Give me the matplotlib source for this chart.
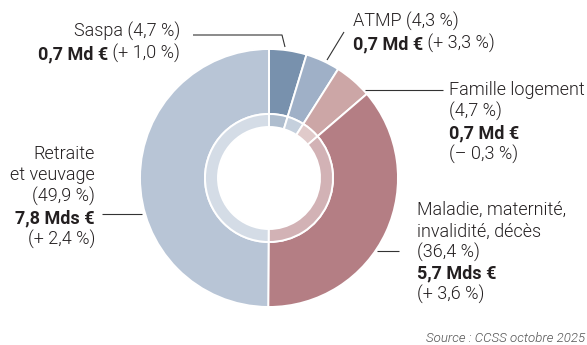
import matplotlib.pyplot as plt

plt.rcParams['font.family'] = ['Roboto', 'DejaVu Sans']

# Régimes de la sécurité sociale : part, montant (Md €) et évolution (%)
branches = ['Saspa', 'ATMP', 'Famille logement',
            'Maladie, maternité,\ninvalidité, décès', 'Retraite\net veuvage']
shares = [4.7, 4.3, 4.7, 36.4, 49.9]
amounts = [0.7, 0.7, 0.7, 5.7, 7.8]
changes = [1.0, 3.3, -0.3, 3.6, 2.4]
source = 'Source : CCSS octobre 2025'

colors = ['#7891ad', '#9fb0c7', '#cca6a6', '#b47e84', '#b8c5d6']
TXT = '#231f20'
FS = 13


def fr(v):
    return f'{abs(v):.1f}'.replace('.', ',')


def share_txt(s):
    return f'({fr(s)} %)'


def amount_txt(a):
    return f"{fr(a)} {'Md' if a < 2 else 'Mds'} €"


def change_txt(c):
    sign = '+' if c >= 0 else '–'
    return f'({sign} {fr(c)} %)'


def lighten(c, f=0.4):
    r, g, b = plt.matplotlib.colors.to_rgb(c)
    return (r + (1 - r) * f, g + (1 - g) * f, b + (1 - b) * f)


fig = plt.figure(figsize=(5.87, 3.45), dpi=100)
ax = fig.add_axes([0, 0, 1, 1])

# pixel-like coordinates, y pointing down
cx, cy, R = 269, 178, 129
ax.pie(shares, colors=colors, radius=R, center=(cx, cy),
       startangle=-90, counterclock=True,
       wedgeprops=dict(width=R - 64, edgecolor='white', linewidth=1.4))
ax.pie(shares, colors=[lighten(c) for c in colors], radius=64, center=(cx, cy),
       startangle=-90, counterclock=True,
       wedgeprops=dict(width=13, edgecolor='white', linewidth=1.4))
ax.set_aspect('equal')
ax.set_xlim(0, 587)
ax.set_ylim(345, 0)
ax.axis('off')


def draw_line(x, y, parts, ha):
    # parts: list of (text, bold); chained so mixed weights sit on one line
    kw = dict(fontsize=FS, color=TXT)
    w = lambda b: 'bold' if b else 300
    if ha == 'left':
        t, b = parts[0]
        prev = ax.text(x, y, t, ha='left', va='baseline', fontweight=w(b), **kw)
        for t, b in parts[1:]:
            prev = ax.annotate(t, xy=(1, 0), xycoords=prev, ha='left', va='bottom',
                               fontweight=w(b), **kw)
    else:
        t, b = parts[-1]
        prev = ax.text(x, y, t, ha='right', va='baseline', fontweight=w(b), **kw)
        for t, b in parts[-2::-1]:
            prev = ax.annotate(t, xy=(0, 0), xycoords=prev, ha='right', va='bottom',
                               fontweight=w(b), **kw)


def draw_block(x, y0, lines, ha, step=21.5):
    for i, parts in enumerate(lines):
        draw_line(x, y0 + i * step, parts, ha)


def leader(xs, ys):
    ax.plot(xs, ys, color='#333333', lw=0.8, solid_capstyle='butt')


# Saspa
draw_block(180, 37, [[(f'{branches[0]} {share_txt(shares[0])}', False)],
                     [(amount_txt(amounts[0]), True), (' ' + change_txt(changes[0]), False)]],
           'right', step=22)
leader([193, 282, 285], [35, 35, 47])

# ATMP
draw_block(353, 27, [[(f'{branches[1]} {share_txt(shares[1])}', False)],
                     [(amount_txt(amounts[1]), True), (' ' + change_txt(changes[1]), False)]],
           'left', step=22)
leader([344, 327], [32, 60])

# Famille logement
draw_block(449, 95, [[(branches[2], False)], [(share_txt(shares[2]), False)],
                     [(amount_txt(amounts[2]), True)], [(change_txt(changes[2]), False)]],
           'left', step=21.7)
leader([365, 443], [90, 90])

# Maladie
mal = [[(s, False)] for s in branches[3].split('\n')]
draw_block(417, 215, mal + [[(share_txt(shares[3]), False)],
                            [(amount_txt(amounts[3]), True)],
                            [(change_txt(changes[3]), False)]], 'left', step=21.3)
leader([377, 399], [251, 251])

# Retraite
ret = [[(s, False)] for s in branches[4].split('\n')]
draw_block(95, 159, ret + [[(share_txt(shares[4]), False)],
                           [(amount_txt(amounts[4]), True)],
                           [(change_txt(changes[4]), False)]], 'right', step=21.5)
leader([102, 142], [214, 214])

ax.text(585, 341.5, source, ha='right', va='baseline', fontsize=9.5,
        style='italic', fontweight=300, color='#555555')

fig.savefig('out.png', dpi=100)
